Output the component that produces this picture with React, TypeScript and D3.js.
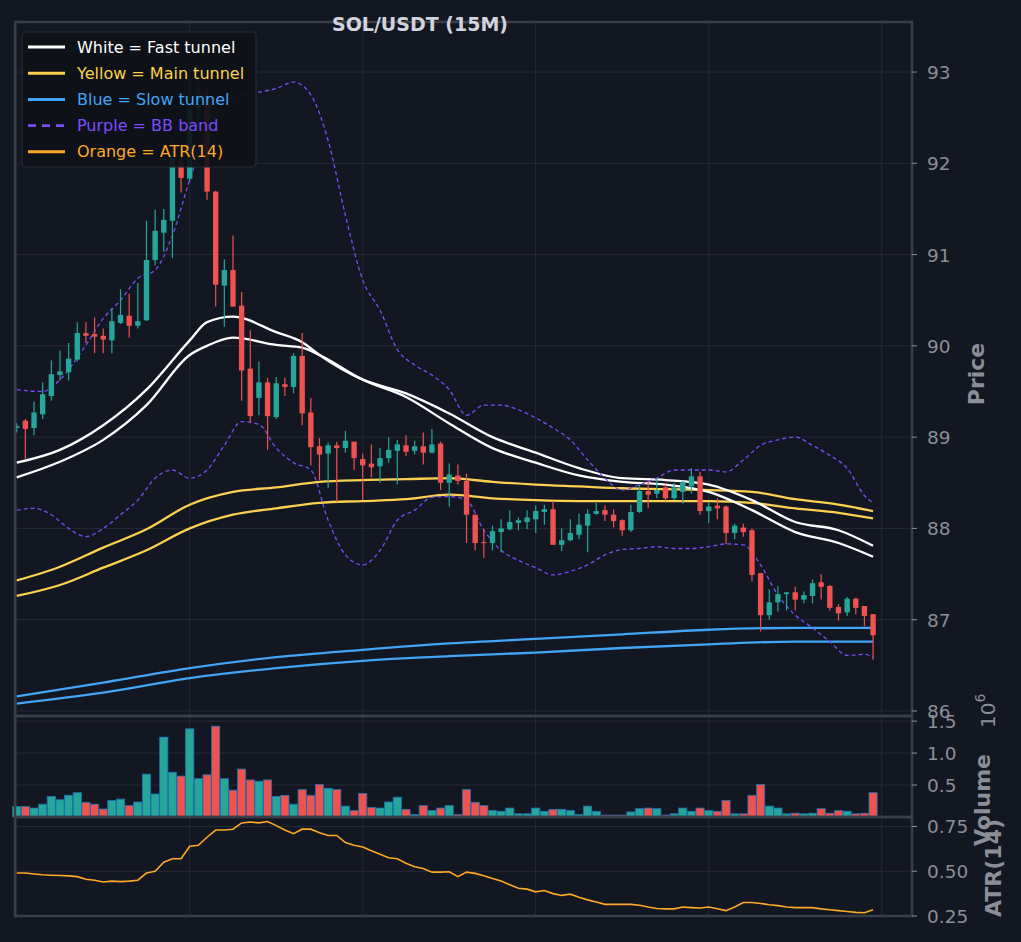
import React from "react";
import * as d3 from "d3";

// candles: [open, close, high, low]
const opens = [89.1,89.18,89.1,89.25,89.45,89.68,89.71,89.85,90.14,90.13,90.11,90.06,90.25,90.33,90.22,90.28,90.94,91.24,91.37,92.03,91.83,92.6,92.75,91.69,90.66,90.83,90.44,89.75,89.43,89.6,89.22,89.58,89.55,89.89,89.27,88.9,88.82,88.91,88.88,88.95,88.76,88.71,88.68,88.77,88.85,88.91,88.85,88.9,88.83,88.93,88.5,88.58,88.52,88.15,87.85,87.84,87.96,87.99,88.06,88.07,88.1,88.18,88.21,87.82,87.87,87.93,88.03,88.16,88.2,88.15,88.09,87.98,88.18,88.41,88.38,88.45,88.33,88.4,88.46,88.57,88.19,88.25,88.24,87.95,88.01,87.98,87.51,87.05,87.19,87.28,87.3,87.22,87.26,87.41,87.37,87.14,87.08,87.23,87.15,87.06];
const closes = [89.12,89.09,89.27,89.47,89.69,89.72,89.86,90.14,90.11,90.1,90.07,90.27,90.34,90.22,90.27,90.94,91.26,91.38,92.1,91.84,92.6,92.75,91.69,90.67,90.83,90.43,89.73,89.23,89.6,89.23,89.59,89.55,89.89,89.26,88.89,88.81,88.91,88.88,88.96,88.77,88.69,88.67,88.77,88.86,88.92,88.84,88.9,88.83,88.92,88.5,88.59,88.52,88.15,87.84,87.84,87.97,88.0,88.07,88.09,88.12,88.19,88.21,87.82,87.87,87.95,88.04,88.16,88.19,88.15,88.08,87.98,88.18,88.41,88.37,88.42,88.33,88.45,88.51,88.57,88.19,88.24,88.22,87.95,88.03,87.96,87.49,87.05,87.19,87.28,87.3,87.22,87.27,87.4,87.36,87.13,87.07,87.23,87.13,87.04,86.83];
const highs = [89.15,89.2,89.39,89.6,89.84,89.95,90.03,90.26,90.26,90.31,90.19,90.41,90.62,90.57,90.69,91.37,91.49,91.5,92.3,92.15,92.94,92.9,92.85,91.7,90.95,91.21,90.59,90.17,89.83,89.65,89.66,89.65,89.92,90.14,89.43,88.99,88.94,88.95,89.07,88.95,88.82,88.92,88.88,89.0,88.97,89.02,88.96,89.05,89.09,88.95,88.71,88.7,88.6,88.15,87.99,88.03,88.1,88.2,88.12,88.2,88.25,88.26,88.3,88.0,88.1,88.16,88.21,88.28,88.25,88.21,88.1,88.26,88.48,88.52,88.55,88.48,88.5,88.52,88.66,88.62,88.29,88.33,88.25,88.05,88.05,88.0,87.51,87.33,87.37,87.3,87.36,87.31,87.44,87.5,87.38,87.17,87.25,87.24,87.15,87.06];
const lows = [89.05,88.75,89.02,89.2,89.4,89.62,89.62,89.83,90.03,89.92,89.92,89.92,90.24,90.09,90.19,90.27,90.88,91.03,90.96,91.68,91.8,92.4,91.6,90.43,90.21,90.43,89.4,89.16,89.24,88.86,89.2,89.45,89.48,89.13,88.69,88.53,88.44,88.29,88.83,88.64,88.31,88.56,88.5,88.72,88.48,88.79,88.81,88.7,88.82,88.42,88.24,88.48,87.84,87.76,87.68,87.76,87.74,87.98,87.98,87.99,87.95,88.04,87.82,87.75,87.86,87.88,87.74,88.15,88.08,88.01,87.92,87.96,88.17,88.22,88.33,88.3,88.31,88.27,88.38,88.15,88.06,88.1,87.83,87.88,87.91,87.42,86.87,87.0,87.09,87.1,87.1,87.18,87.18,87.22,87.1,86.99,87.04,87.06,86.93,86.56];
// volume in millions
const volumes = [0.165,0.165,0.14,0.2,0.32,0.27,0.34,0.38,0.23,0.2,0.125,0.26,0.28,0.18,0.235,0.67,0.36,1.25,0.7,0.64,1.38,0.6,0.66,1.42,0.6,0.42,0.75,0.58,0.56,0.58,0.32,0.34,0.2,0.43,0.34,0.51,0.45,0.43,0.17,0.1,0.37,0.15,0.14,0.235,0.31,0.12,0.04,0.18,0.1,0.14,0.18,0.04,0.43,0.23,0.18,0.1,0.09,0.14,0.05,0.05,0.14,0.09,0.12,0.12,0.1,0.04,0.17,0.09,0.03,0.03,0.03,0.08,0.13,0.14,0.13,0.03,0.05,0.14,0.09,0.14,0.1,0.09,0.26,0.05,0.05,0.34,0.51,0.17,0.14,0.05,0.06,0.05,0.06,0.13,0.06,0.1,0.09,0.05,0.06,0.38];
const atr = [0.49,0.49,0.485,0.48,0.478,0.476,0.474,0.47,0.455,0.45,0.44,0.445,0.442,0.445,0.45,0.49,0.5,0.55,0.57,0.57,0.64,0.645,0.69,0.73,0.73,0.735,0.77,0.775,0.77,0.778,0.755,0.73,0.71,0.735,0.735,0.715,0.7,0.7,0.66,0.645,0.635,0.615,0.595,0.575,0.57,0.545,0.525,0.515,0.495,0.495,0.497,0.47,0.495,0.488,0.475,0.46,0.445,0.425,0.405,0.4,0.385,0.392,0.375,0.365,0.372,0.355,0.34,0.328,0.315,0.315,0.315,0.315,0.31,0.3,0.292,0.29,0.29,0.3,0.297,0.295,0.3,0.29,0.28,0.3,0.325,0.325,0.32,0.313,0.308,0.3,0.297,0.297,0.297,0.29,0.285,0.28,0.275,0.27,0.268,0.285];

// tunnels, sampled at these candle indices
const tIdx = [0,5,10,15,20,22,25,30,33,35,40,45,50,55,60,65,70,75,80,85,90,95,99];
const fastUp = [88.72,88.86,89.13,89.52,90.06,90.26,90.32,90.15,90.04,89.9,89.63,89.48,89.26,89.0,88.83,88.66,88.55,88.53,88.48,88.31,88.07,87.98,87.81];
const fastLo = [88.56,88.73,88.97,89.35,89.9,90.0,90.09,90.01,89.98,89.9,89.63,89.44,89.15,88.88,88.72,88.58,88.51,88.48,88.4,88.2,87.96,87.84,87.69];
const mIdx = [0,5,10,15,20,25,30,35,40,45,50,55,60,65,70,75,80,85,90,95,99];
const mainUp = [87.43,87.58,87.79,87.99,88.26,88.4,88.45,88.51,88.53,88.54,88.55,88.51,88.48,88.46,88.44,88.43,88.42,88.4,88.32,88.26,88.19];
const mainLo = [87.26,87.38,87.57,87.76,88.0,88.15,88.22,88.28,88.3,88.32,88.37,88.33,88.31,88.3,88.3,88.3,88.3,88.28,88.22,88.17,88.11];
const sIdx = [0,10,20,30,40,50,60,70,80,90,99];
const slowUp = [86.16,86.31,86.47,86.59,86.67,86.74,86.79,86.84,86.89,86.91,86.91];
const slowLo = [86.08,86.2,86.36,86.47,86.55,86.6,86.64,86.69,86.73,86.76,86.76];
const bbUpIdx = [0,3,5,8,10,12,14,16,18,20,22,24,26,28,30,32,34,36,38,40,42,44,46,48,50,52,54,56,58,60,62,64,66,68,70,72,74,76,78,80,82,84,86,88,90,92,94,96,98,99];
const bbUp = [89.52,89.5,89.63,90.01,90.3,90.5,90.74,90.83,91.21,91.82,92.36,92.66,92.75,92.78,92.82,92.89,92.75,92.25,91.43,90.72,90.39,89.96,89.79,89.68,89.52,89.24,89.35,89.35,89.3,89.21,89.1,88.97,88.75,88.55,88.42,88.48,88.55,88.64,88.64,88.64,88.62,88.75,88.91,88.97,89.0,88.91,88.8,88.66,88.36,88.28];
const bbLoIdx = [0,2,4,6,8,10,12,14,16,18,20,22,24,26,28,30,32,34,36,38,40,42,44,46,48,50,52,54,56,58,60,62,64,66,68,70,72,74,76,78,80,82,84,86,88,90,92,94,96,98,99];
const bbLo = [88.2,88.22,88.15,88.0,87.91,88.0,88.15,88.31,88.55,88.64,88.55,88.64,88.91,89.17,89.14,88.88,88.72,88.64,88.09,87.71,87.6,87.76,88.09,88.2,88.34,88.35,88.31,87.98,87.76,87.65,87.57,87.49,87.53,87.6,87.71,87.77,87.78,87.8,87.78,87.78,87.8,87.83,87.82,87.6,87.27,87.05,86.91,86.76,86.61,86.62,86.59];

const priceTicks = [86,87,88,89,90,91,92,93];
const volTicks = [0.5,1.0,1.5];
const atrTicks = [0.25,0.5,0.75];
const xGrid = [0,20,40,60,80,100];

const legendItems = [
  { label: "White = Fast tunnel", color: "#ffffff", dash: false },
  { label: "Yellow = Main tunnel", color: "#fdd04f", dash: false },
  { label: "Blue = Slow tunnel", color: "#42a5f5", dash: false },
  { label: "Purple = BB band", color: "#7c4dff", dash: true },
  { label: "Orange = ATR(14)", color: "#ffa726", dash: false },
];

const BG = "#131722";
const GRID = "#262a35";
const SPINE = "#3a3e48";
const TXT = "#8a8e98";
const UP = "#26a69a";
const DN = "#ef5350";

export default function App() {
  const L = 15, R = 912;
  const x = d3.scaleLinear().domain([-0.2, 103.5]).range([L, R]);
  const yP = d3.scaleLinear().domain([85.945, 93.548]).range([716, 22]);
  const yV = d3.scaleLinear().domain([0, 1.58]).range([817, 716]);
  const yA = d3.scaleLinear().domain([0.25, 0.803]).range([916, 817]);
  const bw = 8.65 * 0.62;

  const line = (idx: number[], vals: number[], y: d3.ScaleLinear<number, number>) =>
    d3.line<number>().x((_, i) => x(idx[i])).y((v) => y(v)).curve(d3.curveMonotoneX)(vals) || "";

  const font = "DejaVu Sans, sans-serif";
  const panels = [
    { top: 22, bottom: 716 },
    { top: 716, bottom: 817 },
    { top: 817, bottom: 916 },
  ];

  return (
    <svg width={1021} height={942} style={{ position: "absolute", left: 0, top: 0, background: BG }} fontFamily={font}>
      <rect width={1021} height={942} fill={BG} />
      {panels.map((p, k) => (
        <g key={k}>
          {xGrid.map((g) => (
            <line key={g} x1={x(g)} x2={x(g)} y1={p.top} y2={p.bottom} stroke={GRID} strokeWidth={1} />
          ))}
        </g>
      ))}
      {priceTicks.map((t) => (
        <line key={t} x1={L} x2={R} y1={yP(t)} y2={yP(t)} stroke={GRID} />
      ))}
      {volTicks.map((t) => (
        <line key={t} x1={L} x2={R} y1={yV(t)} y2={yV(t)} stroke={GRID} />
      ))}
      {atrTicks.map((t) => (
        <line key={t} x1={L} x2={R} y1={yA(t)} y2={yA(t)} stroke={GRID} />
      ))}

      <path d={line(sIdx, slowUp, yP)} fill="none" stroke="#42a5f5" strokeWidth={2.3} />
      <path d={line(sIdx, slowLo, yP)} fill="none" stroke="#42a5f5" strokeWidth={2.3} />
      <path d={line(mIdx, mainUp, yP)} fill="none" stroke="#fdd04f" strokeWidth={2.3} />
      <path d={line(mIdx, mainLo, yP)} fill="none" stroke="#fdd04f" strokeWidth={2.3} />
      <path d={line(tIdx, fastUp, yP)} fill="none" stroke="#ffffff" strokeWidth={2.3} />
      <path d={line(tIdx, fastLo, yP)} fill="none" stroke="#ffffff" strokeWidth={2.3} />
      <path d={line(bbUpIdx, bbUp, yP)} fill="none" stroke="#7c4dff" strokeWidth={1.3} strokeDasharray="4 3" />
      <path d={line(bbLoIdx, bbLo, yP)} fill="none" stroke="#7c4dff" strokeWidth={1.3} strokeDasharray="4 3" />

      {opens.map((o, i) => {
        const c = closes[i];
        const col = c >= o ? UP : DN;
        const top = yP(Math.max(o, c));
        const h = Math.max(1, Math.abs(yP(o) - yP(c)));
        return (
          <g key={i}>
            <line x1={x(i)} x2={x(i)} y1={yP(highs[i])} y2={yP(lows[i])} stroke={col} strokeWidth={1.2} />
            <rect x={x(i) - bw / 2} y={top} width={bw} height={h} fill={col} />
          </g>
        );
      })}

      {volumes.map((v, i) => (
        <rect key={i} x={x(i) - 4.1} y={yV(v)} width={8.2} height={yV(0) - yV(v)}
          fill={closes[i] >= opens[i] ? UP : DN} stroke="#1f6fb4" strokeWidth={0.8} />
      ))}

      <path d={d3.line<number>().x((_, i) => x(i)).y((v) => yA(v))(atr) || ""} fill="none" stroke="#ffa726" strokeWidth={1.6} />

      {panels.map((p, k) => (
        <rect key={k} x={L} y={p.top} width={R - L} height={p.bottom - p.top} fill="none" stroke={SPINE} strokeWidth={2.5} />
      ))}

      {priceTicks.map((t) => (
        <g key={t}>
          <line x1={R} x2={R + 5} y1={yP(t)} y2={yP(t)} stroke={TXT} />
          <text x={R + 15} y={yP(t) + 7} fill={TXT} fontSize={18.5}>{t}</text>
        </g>
      ))}
      {volTicks.map((t) => (
        <g key={t}>
          <line x1={R} x2={R + 5} y1={yV(t)} y2={yV(t)} stroke={TXT} />
          <text x={R + 15} y={yV(t) + 7} fill={TXT} fontSize={18.5}>{t.toFixed(1)}</text>
        </g>
      ))}
      {atrTicks.map((t) => (
        <g key={t}>
          <line x1={R} x2={R + 5} y1={yA(t)} y2={yA(t)} stroke={TXT} />
          <text x={R + 15} y={yA(t) + 7} fill={TXT} fontSize={18.5}>{t.toFixed(2)}</text>
        </g>
      ))}
      <text transform="translate(984,374) rotate(-90)" textAnchor="middle" fill={TXT} fontSize={22} fontWeight="bold">Price</text>
      <text transform="translate(990,800) rotate(-90)" textAnchor="middle" fill={TXT} fontSize={22} fontWeight="bold">Volume</text>
      <text transform="translate(1001,868) rotate(-90)" textAnchor="middle" fill={TXT} fontSize={22} fontWeight="bold">ATR(14)</text>
      <text transform="translate(995,728) rotate(-90)" fill={TXT} fontSize={20}>10<tspan dy={-10} fontSize={14}>6</tspan></text>

      <text x={420} y={31} textAnchor="middle" fill="#d1d4dc" fontSize={19} fontWeight="bold">SOL/USDT (15M)</text>

      <rect x={22} y={32} width={234} height={135} rx={4} fill="#0e1117" fillOpacity={0.92} stroke={GRID} strokeWidth={1.2} />
      {legendItems.map((it, k) => (
        <g key={k} transform={`translate(0,${47 + k * 26.2})`}>
          <line x1={28} x2={65} y1={0} y2={0} stroke={it.color} strokeWidth={it.dash ? 2.6 : 3} strokeDasharray={it.dash ? "8 6" : undefined} />
          <text x={77} y={5.5} fill={it.color} fontSize={16}>{it.label}</text>
        </g>
      ))}
    </svg>
  );
}
